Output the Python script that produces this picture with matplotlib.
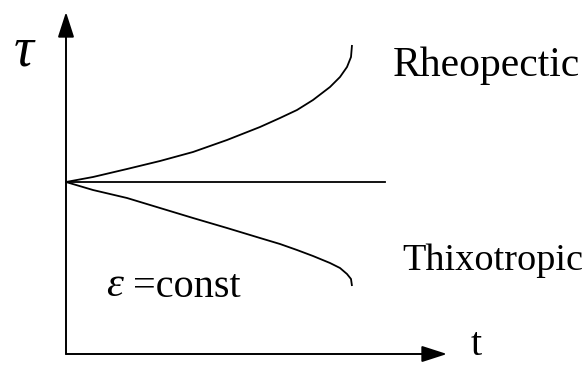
import numpy as np
import matplotlib
matplotlib.use("Agg")
import matplotlib.pyplot as plt

# curves (t, tau in arbitrary units, origin at the axes corner)
t_curve = [0.0, 0.27, 0.61, 0.94, 1.27, 1.61, 1.94, 2.14, 2.31, 2.47, 2.64, 2.74, 2.81, 2.85, 2.86]
tau_rheo = [1.72, 1.77, 1.85, 1.93, 2.02, 2.14, 2.27, 2.36, 2.44, 2.54, 2.67, 2.77, 2.87, 2.97, 3.09]
tau_thixo = [1.72, 1.64, 1.56, 1.46, 1.36, 1.26, 1.16, 1.10, 1.04, 0.98, 0.91, 0.86, 0.80, 0.75, 0.68]
t_const = [0.0, 3.19]
tau_const = [1.72, 1.72]

X_END, Y_END = 3.81, 3.42  # arrow tips

SERIF = ["Liberation Serif", "DejaVu Serif"]

fig = plt.figure(figsize=(5.88, 3.65), dpi=100)
ax = fig.add_axes([0, 0, 1, 1])
ax.set_xlim(-0.66, 5.22)
ax.set_ylim(-0.11, 3.54)
ax.axis("off")

lw = 1.3
ax.plot(t_curve, tau_rheo, color="black", lw=lw, solid_capstyle="butt", solid_joinstyle="round")
ax.plot(t_curve, tau_thixo, color="black", lw=lw, solid_capstyle="butt", solid_joinstyle="round")
ax.plot(t_const, tau_const, color="black", lw=lw)

# axes with arrow heads
arrow = dict(arrowstyle="-|>,head_length=1.55,head_width=0.5", color="black", lw=1.4,
             shrinkA=0, shrinkB=0)
ax.annotate("", xy=(X_END, 0), xytext=(0, 0), arrowprops=arrow)
ax.annotate("", xy=(0, Y_END), xytext=(0, 0), arrowprops=arrow)

ax.text(-0.42, 3.03, "τ", fontsize=40, style="italic", family=SERIF, ha="center", va="center")
ax.text(4.10, -0.10, "t", fontsize=29, family=SERIF, ha="center", va="bottom")
ax.text(3.27, 2.78, "Rheopectic", fontsize=30, family=SERIF, ha="left", va="baseline")
ax.text(3.36, 0.84, "Thixotropic", fontsize=27.5, family=SERIF, ha="left", va="baseline")
ax.text(0.49, 0.68, "ε", fontsize=31, style="italic", family=SERIF, ha="center", va="center")
ax.text(0.67, 0.57, "=const", fontsize=29, family=SERIF, ha="left", va="baseline")

fig.savefig("out.png", dpi=100)
